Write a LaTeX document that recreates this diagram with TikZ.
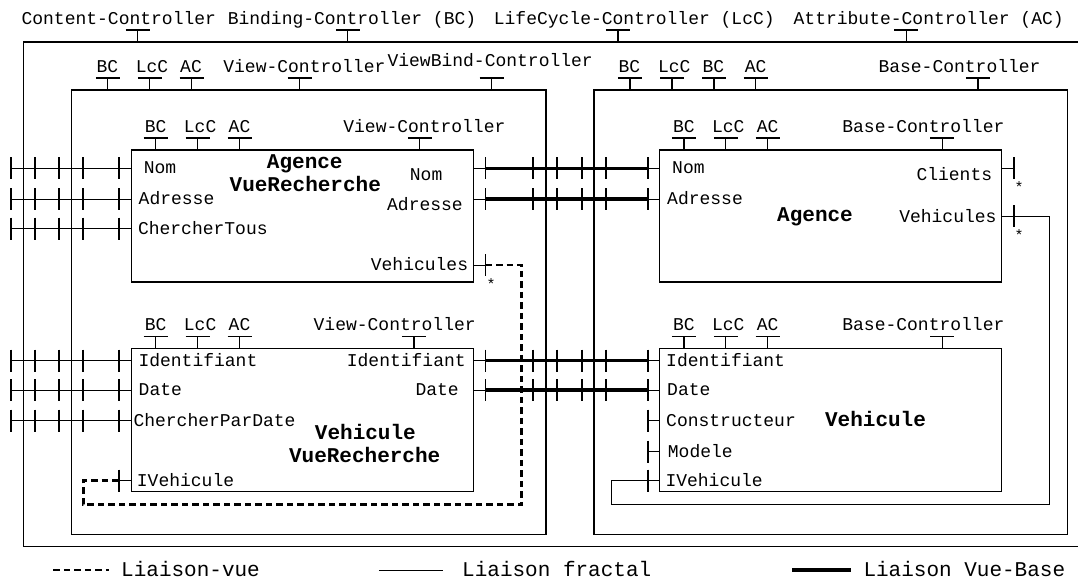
\documentclass[tikz,border=0pt]{standalone}
\usepackage{fontspec}
\setmainfont{Liberation Mono}
\usepackage{tikz}
\usetikzlibrary{positioning,calc}

\begin{document}
\begin{tikzpicture}[x=1pt, y=-1pt,
  box/.style={draw, line width=1.3pt, inner sep=0pt, outer sep=0pt, anchor=north west},
  ctl/.style={line width=1.3pt},
  wire/.style={line width=1pt},
  tick/.style={line width=1.9pt},
  vb/.style={line width=3.2pt},
  lv/.style={line width=2.9pt, dash pattern=on 6.5pt off 4pt},
  lbl/.style={font=\fontsize{18}{18}\selectfont, inner sep=0pt},
  ttl/.style={font=\fontsize{21}{21}\selectfont\bfseries, inner sep=0pt, anchor=base},
  leg/.style={font=\fontsize{21}{21}\selectfont, inner sep=0pt, anchor=base west},
  card/.style={font=\fontsize{15}{15}\selectfont, inner sep=0pt, anchor=base}]
  \useasboundingbox (0,0) rectangle (1078,578);
  \node[box, minimum width=1062pt, minimum height=504.7pt] (cc) at (23.4,42) {};
  \node[box, minimum width=474.7pt, minimum height=444.3pt] (vcomp) at (71.3,90) {};
  \node[box, minimum width=473.5pt, minimum height=444.3pt] (bcomp) at (594,90) {};
  \node[box, minimum width=342.3pt, minimum height=132pt] (avr) at (131.2,150) {};
  \node[box, minimum width=342.2pt, minimum height=132pt] (agc) at (659.4,150) {};
  \node[box, minimum width=342.3pt, minimum height=143.4pt] (vvr) at (131.2,348.3) {};
  \node[box, minimum width=342.2pt, minimum height=143.4pt] (veh) at (659.4,348.3) {};

  \foreach \bx/\dx/\ldx/\rs/\txt [count=\i] in {
      cc/114.3/95.4/17.7/Content-Controller,
      cc/324.4/328.6/17.7/Binding-Controller (BC),
      cc/594.5/610.9/17.7/LifeCycle-Controller (LcC),
      cc/882.8/905.3/17.7/Attribute-Controller (AC),
      vcomp/36.5/36.1/17.7/BC, vcomp/78.5/80.7/17.7/LcC, vcomp/120.2/119.7/17.7/AC,
      vcomp/228.3/233.1/17.7/View-Controller, vcomp/420.4/418.9/23.3/ViewBind-Controller,
      bcomp/35.9/35.4/17.7/BC, bcomp/78.1/80.3/17.7/LcC, bcomp/120/119.3/17.7/BC,
      bcomp/161.5/161.7/17.7/AC, bcomp/383.9/365.5/17.7/Base-Controller,
      avr/288.6/293.2/17.7/View-Controller, agc/282.8/264/17.7/Base-Controller,
      vvr/282.7/263.5/17.7/View-Controller, veh/282.8/264/17.7/Base-Controller}{
    \draw[ctl] ([xshift=\dx pt]\bx.north west) -- ++(0,-12) ++(-12,0) -- ++(24,0);
    \node[lbl, anchor=base] (ctl\i) at ([xshift=\ldx pt, yshift=\rs pt]\bx.north west) {\txt};}
  \foreach \bx in {avr,agc,vvr,veh}{
    \foreach \dx/\ldx/\txt in {24.5/24.5/BC, 66.4/68.9/LcC, 108.3/108.3/AC}{
      \draw[ctl] ([xshift=\dx pt]\bx.north west) -- ++(0,-12) ++(-12,0) -- ++(24,0);
      \node[lbl, anchor=base] (\bx-\txt) at ([xshift=\ldx pt, yshift=17.7pt]\bx.north west) {\txt};}}

  \foreach \bx/\sd/\n/\y/\lx/\ly/\txt in {
      avr/west/w1/168.3/143.6/173.6/Nom, avr/west/w2/199/138.5/204.3/Adresse,
      avr/west/w3/228.7/137.8/234/ChercherTous,
      avr/east/e1/168.3/442.5/180/Nom, avr/east/e2/199/463/210/Adresse,
      avr/east/e3/265/468.3/270.3/Vehicules,
      agc/west/w1/168.3/672/173.6/Nom, agc/west/w2/199/667/204.3/Adresse,
      agc/east/e1/168.3/992.3/180/Clients, agc/east/e2/216/996.7/222/Vehicules,
      vvr/west/w1/360.7/138.3/366/Identifiant, vvr/west/w2/390/138.5/395.5/Date,
      vvr/west/w3/420.7/133.3/426.3/ChercherParDate, vvr/west/w4/480.7/136.7/486/IVehicule,
      vvr/east/e1/360.7/465.9/366/Identifiant, vvr/east/e2/390/459/395.5/Date,
      veh/west/w1/360.7/666/366/Identifiant, veh/west/w2/390/667/395.5/Date,
      veh/west/w3/420.7/666/426.3/Constructeur, veh/west/w4/451.7/667.7/457/Modele,
      veh/west/w5/480.7/665.3/486/IVehicule}{
    \coordinate (\bx-\n) at (\bx.\sd |- 0,\y);
    \node[lbl, anchor=base \sd] (\bx-\n-t) at (\lx,\ly) {\txt};}

  \node[ttl] (avr-t1) at (304.8,168.3) {Agence};
  \node[ttl] (avr-t2) at (305.3,191.7) {VueRecherche};
  \node[ttl] (agc-t) at (815,221.7) {Agence};
  \node[ttl] (vvr-t1) at (365.4,439) {Vehicule};
  \node[ttl] (vvr-t2) at (364.7,462.3) {VueRecherche};
  \node[ttl] (veh-t) at (875.5,426.7) {Vehicule};

  \foreach \p in {avr-w1,avr-w2,avr-w3,vvr-w1,vvr-w2,vvr-w3}{
    \draw[wire] (\p) -- ([xshift=-120.2pt]\p);
    \foreach \d in {120.2,96.2,71.9,47.9,11.9}
      \draw[tick] ([xshift=-\d pt, yshift=11pt]\p) -- ++(0,22);}
  \foreach \a/\b in {avr-e1/agc-w1, avr-e2/agc-w2, vvr-e1/veh-w1, vvr-e2/veh-w2}{
    \draw[wire] (\a) -- (\b);
    \draw[vb] ([xshift=12pt]\a) -- ([xshift=-11.2pt]\b);
    \foreach \d in {12,59.8,83.8,108.2,132.2}
      \draw[tick] ([xshift=\d pt, yshift=11pt]\a) -- ++(0,22);
    \draw[tick] ([xshift=-11.2pt, yshift=11pt]\b) -- ++(0,22);}
  \foreach \p in {veh-w3,veh-w4,veh-w5}{
    \draw[wire] (\p) -- ([xshift=-11.2pt]\p);
    \draw[tick] ([xshift=-11.2pt, yshift=11pt]\p) -- ++(0,22);}
  \foreach \p in {agc-e1,agc-e2,avr-e3}{
    \draw[wire] (\p) -- ([xshift=12pt]\p);
    \draw[tick] ([xshift=12pt, yshift=11pt]\p) -- ++(0,22);
    \node[card] (\p-m) at ([xshift=17.5pt, yshift=-24.5pt]\p) {*};}

  \coordinate (lvc) at (521.7,504.3);
  \coordinate (fxc) at (1049.6,504);
  \draw[lv] ([xshift=12pt]avr-e3) -| (lvc) -| ([xshift=-48pt]vvr-w4) -- ([xshift=-11.9pt]vvr-w4);
  \draw[wire] ([xshift=-11.9pt]vvr-w4) -- (vvr-w4);
  \draw[tick] ([xshift=-11.9pt, yshift=11pt]vvr-w4) -- ++(0,22);
  \draw[wire] ([xshift=12pt]agc-e2) -| (fxc) -| ([xshift=-48pt]veh-w5) -- ([xshift=-11.2pt]veh-w5);

  \coordinate (lg1a) at (53.4,570);
  \coordinate (lg1b) at (108.5,570);
  \coordinate (lg2a) at (378.8,570);
  \coordinate (lg2b) at (442.5,570);
  \coordinate (lg3a) at (792.2,570);
  \coordinate (lg3b) at (850.6,570);
  \draw[lv] (lg1a) -- (lg1b);
  \draw[wire] (lg2a) -- (lg2b);
  \draw[vb] (lg3a) -- (lg3b);
  \node[leg] (lg1) at (121,576) {Liaison-vue};
  \node[leg] (lg2) at (462,576) {Liaison fractal};
  \node[leg] (lg3) at (863.3,576) {Liaison Vue-Base};
\end{tikzpicture}
\end{document}
